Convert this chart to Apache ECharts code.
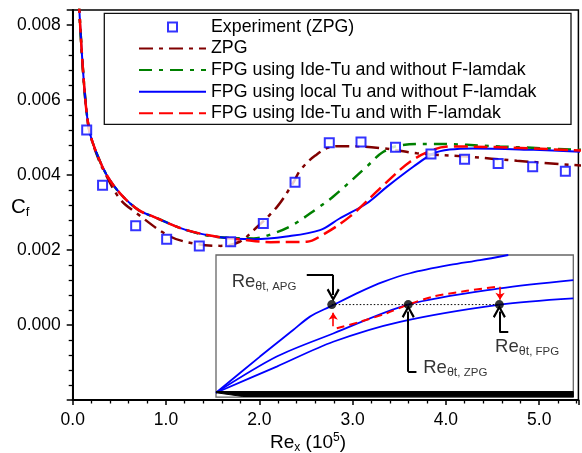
<!DOCTYPE html>
<html><head><meta charset="utf-8">
<script src="https://cdn.jsdelivr.net/npm/echarts@6/dist/echarts.min.js"></script>
<style>html,body{margin:0;padding:0;background:#fff}#c{width:582px;height:453px}</style>
</head><body><div id="c"></div>
<script>
const FONT = "'Liberation Sans', Arial, Helvetica, sans-serif";

// ---- main chart data (Re_x in 1e5, Cf) ----
const expX = [0.15,0.32,0.675,1.007,1.357,1.693,2.043,2.383,2.75,3.09,3.46,3.84,4.20,4.56,4.93,5.28];
const expY = [0.0052,0.00373,0.00265,0.00229,0.00211,0.00222,0.00271,0.00381,0.00486,0.00488,0.00474,0.00456,0.00442,0.00431,0.00422,0.0041];

const zpgX = [0.066,0.071,0.096,0.121,0.15,0.185,0.257,0.33,0.507,0.686,1.043,1.33,1.58,1.79,1.94,2.19,2.36,2.44,2.6,2.79,2.97,3.33,3.69,4.22,4.76,5.45];
const zpgY = [0.0087,0.0084,0.00733,0.00644,0.00565,0.00511,0.00455,0.00413,0.00336,0.00298,0.00236,0.00216,0.00211,0.00222,0.00253,0.00315,0.00378,0.00413,0.00452,0.00476,0.00477,0.00471,0.00458,0.00449,0.00438,0.00425];

const greenX = [0.066,0.071,0.096,0.121,0.15,0.185,0.257,0.364,0.507,0.703,0.864,1.22,1.58,1.94,2.15,2.36,2.62,2.79,3.15,3.33,3.54,3.87,4.58,5.45];
const greenY = [0.0087,0.0084,0.00733,0.00644,0.00565,0.00511,0.00458,0.0040,0.00351,0.00307,0.00289,0.00253,0.00234,0.00231,0.00244,0.00267,0.00311,0.00342,0.00422,0.00462,0.0048,0.00483,0.00476,0.00467];

const blueX = [0.066,0.071,0.096,0.121,0.15,0.185,0.257,0.364,0.507,0.703,0.864,1.22,1.58,1.94,2.29,2.65,2.86,3.15,3.37,3.65,3.87,4.04,4.29,4.94,5.45];
const blueY = [0.0087,0.0084,0.00733,0.00644,0.00565,0.00511,0.00458,0.0040,0.00351,0.00307,0.00289,0.00253,0.00234,0.00229,0.00236,0.00253,0.00284,0.00324,0.00369,0.00422,0.00458,0.00468,0.00471,0.00467,0.00462];

const redX = [0.066,0.071,0.096,0.121,0.15,0.185,0.257,0.364,0.507,0.703,0.864,1.22,1.58,1.8,2.12,2.51,2.65,2.97,3.33,3.62,3.87,4.04,4.58,5.45];
const redY = [0.0087,0.0084,0.00733,0.00644,0.00565,0.00511,0.00458,0.0040,0.00351,0.00307,0.00289,0.00253,0.00234,0.00228,0.00221,0.00222,0.00236,0.00289,0.00373,0.00436,0.00468,0.00476,0.00474,0.00465];

const seriesNames = ['Experiment (ZPG)','ZPG','FPG using Ide-Tu and without F-lamdak','FPG using local Tu and without F-lamdak','FPG using Ide-Tu and with F-lamdak'];
const xTicks = [0,1,2,3,4,5];

// ---- inset sketch data (arbitrary units) ----
const apgU = [0,1.23,2.16,2.63,3.19,4.03,4.68,5.43,6.55,7.39,8.18];
const apgW = [0,1.05,1.82,2.21,2.50,2.93,3.22,3.47,3.71,3.85,4.0];
const zpgU = [0,1.70,3.28,5.38,7.95,10.0];
const zpgW = [0,1.05,1.72,2.56,3.03,3.27];
const fpgU = [0,1.70,3.28,5.15,7.95,10.0];
const fpgW = [0,0.76,1.48,2.06,2.56,2.74];
const redInsetU = [3.38,4.03,4.78,5.38,6.07,7.02,7.86];
const redInsetW = [1.87,2.06,2.31,2.56,2.79,2.96,3.08];
const dotU = [3.24,5.38,7.93];
const dotW = [2.56,2.56,2.56];
const plateU = [0,10,10,0.75,0];
const plateW = [0.035,0.035,-0.125,-0.11,0];
const blackArrows = [[[2.54,3.42],[3.28,3.42],[3.28,2.84]],[[5.61,0.61],[5.38,0.61],[5.38,2.36]],[[8.18,1.77],[7.93,1.77],[7.93,2.36]]];
const redArrows = [[[3.28,1.93],[3.28,2.32]],[[7.95,3.08],[7.95,2.70]]];
const labelPos = [[0.44,3.22,'APG'],[5.80,0.71,'ZPG'],[7.81,1.34,'FPG']];

const zip = (a,b) => a.map((v,i)=>[v,b[i]]);

const chevron = 'path://M0,8 L5,0 L10,8 L8.6,9 L5,3 L1.4,9 Z';

const chart = echarts.init(document.getElementById('c'), null, {renderer:'canvas'});

const lineBase = {type:'line', symbol:'none', smooth:0.35, xAxisIndex:0, yAxisIndex:0, z:2};
const noSym = {color:'rgba(0,0,0,0)', borderWidth:0, borderColor:'rgba(0,0,0,0)'};

chart.setOption({
  animation:false,
  backgroundColor:'#fff',
  grid:[
    {left:72.7, top:10, width:505.7, height:390, show:true, borderColor:'#000', borderWidth:1.5, backgroundColor:'transparent'},
    {left:216, top:255, width:357.3, height:142.2, show:true, borderColor:'#666', borderWidth:1.3, backgroundColor:'#fff', z:3}
  ],
  xAxis:[
    {type:'value', gridIndex:0, min:0, max:5.42, interval:1,
     axisLine:{show:true, onZero:false, lineStyle:{color:'#000', width:2}},
     axisTick:{show:true, length:5, lineStyle:{color:'#000', width:1.5}},
     minorTick:{show:true, splitNumber:5, length:3.5, lineStyle:{color:'#000', width:1.3}},
     splitLine:{show:false},
     axisLabel:{color:'#000', fontSize:17.5, fontFamily:FONT, margin:11,
       formatter:v => xTicks.some(t=>Math.abs(t-v)<1e-6) ? v.toFixed(1) : ''}},
    {type:'value', gridIndex:1, min:0, max:10, show:false}
  ],
  yAxis:[
    {type:'value', gridIndex:0, min:-0.002, max:0.0084, interval:0.002,
     axisLine:{show:true, onZero:false, lineStyle:{color:'#000', width:2}},
     axisTick:{show:true, length:6, lineStyle:{color:'#000', width:1.5}},
     minorTick:{show:true, splitNumber:5, length:4, lineStyle:{color:'#000', width:1.3}},
     splitLine:{show:false},
     axisLabel:{color:'#000', fontSize:17.5, fontFamily:FONT, margin:12,
       formatter:v => (v > -0.0001 && Math.abs(v*500-Math.round(v*500))<1e-6) ? v.toFixed(3) : ''}},
    {type:'value', gridIndex:1, min:-0.13, max:4.0, show:false}
  ],
  legend:{
    orient:'vertical', left:104.3, top:13.3,
    itemWidth:67, itemHeight:9, itemGap:3.6,
    padding:[4.6,10,3,33.7],
    borderWidth:0,
    data:[
      {name:seriesNames[0], icon:'path://M0,0L10,0L10,10L0,10Z'},
      {name:seriesNames[1], itemStyle:noSym},
      {name:seriesNames[2], itemStyle:noSym},
      {name:seriesNames[3], itemStyle:noSym},
      {name:seriesNames[4], itemStyle:noSym}
    ],
    textStyle:{color:'#000', fontSize:17.8, fontFamily:FONT}
  },
  graphic:[
    {type:'rect', shape:{x:104.3, y:13.3, width:466.7, height:111}, style:{fill:'none', stroke:'#111', lineWidth:1.3}, z:10, silent:true},
    {type:'text', x:270, y:432, style:{text:'{a|Re}{b|x}{a| (10}{c|5}{a|)}', fill:'#000',
      rich:{a:{fontSize:19, fontFamily:FONT, lineHeight:22}, b:{fontSize:12, fontFamily:FONT, verticalAlign:'bottom', lineHeight:14}, c:{fontSize:12, fontFamily:FONT, verticalAlign:'top', lineHeight:12}}}},
    {type:'text', x:11, y:195, style:{text:'{a|C}{b|f}', fill:'#000',
      rich:{a:{fontSize:20.5, fontFamily:FONT, lineHeight:24}, b:{fontSize:13, fontFamily:FONT, verticalAlign:'bottom', lineHeight:15}}}}
  ],
  series:[
    Object.assign({}, lineBase, {name:seriesNames[1], data:zip(zpgX,zpgY), color:'#800000', lineStyle:{color:'#800000', width:2.5, type:[14,6,4,6]}}),
    Object.assign({}, lineBase, {name:seriesNames[2], data:zip(greenX,greenY), color:'#008000', lineStyle:{color:'#008000', width:2.5, type:[13,7,4,7]}}),
    Object.assign({}, lineBase, {name:seriesNames[3], data:zip(blueX,blueY), color:'#0000ff', lineStyle:{color:'#0000ff', width:2}}),
    Object.assign({}, lineBase, {name:seriesNames[4], data:zip(redX,redY), color:'#ff0000', lineStyle:{color:'#ff0000', width:2.5, type:[14,6]}}),
    {type:'scatter', name:seriesNames[0], data:zip(expX,expY), xAxisIndex:0, yAxisIndex:0, symbol:'rect', symbolSize:9, z:4,
     itemStyle:{color:'#fff', borderColor:'#0000ff', borderWidth:2}},

    // inset sketch
    {type:'line', data:zip(apgU,apgW), xAxisIndex:1, yAxisIndex:1, symbol:'none', smooth:0.3, z:5, lineStyle:{color:'#0000ff', width:1.8}},
    {type:'line', data:zip(zpgU,zpgW), xAxisIndex:1, yAxisIndex:1, symbol:'none', smooth:0.3, z:5, lineStyle:{color:'#0000ff', width:1.8}},
    {type:'line', data:zip(fpgU,fpgW), xAxisIndex:1, yAxisIndex:1, symbol:'none', smooth:0.3, z:5, lineStyle:{color:'#0000ff', width:1.8}},
    {type:'line', data:zip(redInsetU,redInsetW), xAxisIndex:1, yAxisIndex:1, symbol:'none', smooth:0.3, z:6, lineStyle:{color:'#ff0000', width:2, type:[8,5]}},
    {type:'line', data:[[dotU[0],dotW[0]],[dotU[2],dotW[2]]], xAxisIndex:1, yAxisIndex:1, symbol:'none', z:6, lineStyle:{color:'#000', width:1, type:[1.5,2]}},
    {type:'line', data:zip(plateU,plateW), xAxisIndex:1, yAxisIndex:1, symbol:'none', z:6, lineStyle:{color:'#000', width:1}, areaStyle:{color:'#000', opacity:1, origin:'start'}},
    {type:'lines', coordinateSystem:'cartesian2d', xAxisIndex:1, yAxisIndex:1, z:7,
     symbol:['none','none'], lineStyle:{color:'#000', width:2, opacity:1},
     data:blackArrows.map(c=>({coords:c.slice(0,2)}))},
    {type:'lines', coordinateSystem:'cartesian2d', xAxisIndex:1, yAxisIndex:1, z:7,
     symbol:['none', chevron], symbolSize:13, lineStyle:{color:'#000', width:2, opacity:1},
     data:blackArrows.map(c=>({coords:c.slice(1)}))},
    {type:'lines', coordinateSystem:'cartesian2d', xAxisIndex:1, yAxisIndex:1, z:7,
     symbol:['none','arrow'], symbolSize:7, lineStyle:{color:'#ff0000', width:1.6, opacity:1},
     data:redArrows.map(c=>({coords:c}))},
    {type:'scatter', data:zip(dotU,dotW), xAxisIndex:1, yAxisIndex:1, symbol:'circle', symbolSize:9, z:8, itemStyle:{color:'#000'}},
    {type:'scatter', data:labelPos, xAxisIndex:1, yAxisIndex:1, symbolSize:0, z:8, silent:true,
     label:{show:true, position:'right', distance:0, color:'#000',
       formatter:p=>'{a|Re}{b|θt}{c|, '+p.data[2]+'}',
       rich:{a:{fontSize:18.5, fontFamily:FONT, lineHeight:22}, b:{fontSize:12.5, fontFamily:FONT, verticalAlign:'bottom', lineHeight:14}, c:{fontSize:11.5, fontFamily:FONT, verticalAlign:'bottom', lineHeight:13}}}}
  ]
});
</script></body></html>
